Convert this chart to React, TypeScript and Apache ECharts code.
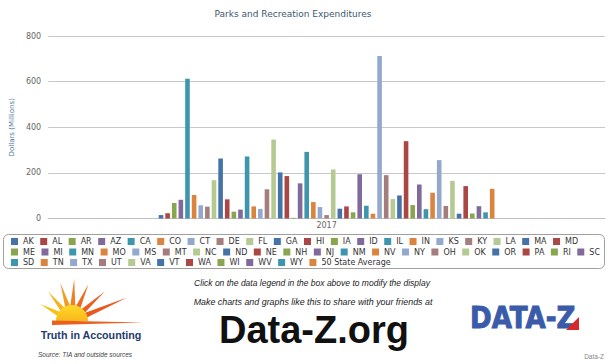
import React, { useEffect, useRef } from 'react';
import * as echarts from 'echarts';

const categories = ['2017'];
const states = [
  'AK', 'AL', 'AR', 'AZ', 'CA', 'CO', 'CT', 'DE', 'FL', 'GA',
  'HI', 'IA', 'ID', 'IL', 'IN', 'KS', 'KY', 'LA', 'MA', 'MD',
  'ME', 'MI', 'MN', 'MO', 'MS', 'MT', 'NC', 'ND', 'NE', 'NH',
  'NJ', 'NM', 'NV', 'NY', 'OH', 'OK', 'OR', 'PA', 'RI', 'SC',
  'SD', 'TN', 'TX', 'UT', 'VA', 'VT', 'WA', 'WI', 'WV', 'WY',
  '50 State Average',
];
const values = [
  15, 23, 68, 82, 613, 103, 58, 52, 168, 263,
  84, 30, 39, 272, 53, 42, 128, 346, 202, 186,
  3, 154, 292, 72, 50, 15, 215, 43, 53, 27,
  194, 56, 21, 712, 190, 85, 101, 339, 59, 149,
  41, 113, 256, 55, 165, 21, 142, 22, 54, 27,
  130,
];
const palette = ['#4572A7', '#AA4643', '#89A54E', '#80699B', '#3D96AE', '#DB843D', '#92A8CD', '#A47D7C', '#B5CA92'];
const yMin = 0;
const yMax = 800;
const yStep = 200;
const legendRows = [states.slice(0, 20), states.slice(20, 40), states.slice(40)];

const FONT = '"DejaVu Sans", Verdana, sans-serif';
const SANS = '"Liberation Sans", Arial, sans-serif';

function ray(cx: number, cy: number, deg: number, r1: number, r2: number, hw: number) {
  const a = (deg * Math.PI) / 180;
  const dx = Math.cos(a);
  const dy = -Math.sin(a);
  const px = -dy;
  const py = dx;
  return [
    [cx + dx * r1 + px * hw, cy + dy * r1 + py * hw],
    [cx + dx * r2, cy + dy * r2],
    [cx + dx * r1 - px * hw, cy + dy * r1 - py * hw],
  ];
}

export default function App() {
  const ref = useRef<HTMLDivElement>(null);

  useEffect(() => {
    const chart = echarts.init(ref.current as HTMLDivElement, null, { renderer: 'svg' });
    const sx = 72;
    const sy = 321;
    const rays: [number, number, string][] = [
      [152, 36, '#F6C21A'],
      [129, 38, '#F6B41A'],
      [107, 40, '#F39A1F'],
      [87, 42, '#EE7F22'],
      [66, 40, '#EC6B23'],
      [42, 44, '#E95F24'],
      [23, 60, '#E8581F'],
    ];
    const option: any = {
      animation: false,
      backgroundColor: '#ffffff',
      title: {
        text: 'Parks and Recreation Expenditures',
        left: 293,
        top: 9,
        padding: 0,
        textAlign: 'center',
        textStyle: { fontSize: 9, fontWeight: 'normal', color: '#3E576F', fontFamily: FONT },
      },
      grid: { left: 42, right: 7, top: 36, bottom: 145.5, containLabel: false },
      xAxis: {
        type: 'category',
        data: categories,
        axisLine: { lineStyle: { color: '#C0C0C0', width: 1 } },
        axisTick: { show: false },
        axisLabel: { fontSize: 8, color: '#666', margin: 3, fontFamily: FONT },
      },
      yAxis: {
        type: 'value',
        min: yMin,
        max: yMax,
        interval: yStep,
        axisLine: { show: false },
        axisTick: { show: false },
        splitLine: { lineStyle: { color: '#C8C8C8', width: 1 } },
        axisLabel: { fontSize: 8, color: '#666', margin: 7, fontFamily: FONT },
        name: 'Dollars (Millions)',
        nameLocation: 'middle',
        nameGap: 27,
        nameTextStyle: { fontSize: 7, color: '#4d759e', fontFamily: FONT },
      },
      legend: legendRows.map((data, r) => ({
        data,
        left: 11,
        top: 237.5 + r * 10.5,
        orient: 'horizontal',
        padding: 0,
        icon: 'rect',
        itemWidth: 7,
        itemHeight: 7,
        itemGap: 6.5,
        textStyle: { fontSize: 8, color: '#333', width: 12, fontFamily: FONT },
      })),
      series: states.map((name, i) => ({
        type: 'bar',
        name,
        data: [values[i]],
        barWidth: 4.6,
        barGap: '44%',
        itemStyle: { color: palette[i % palette.length] },
      })),
      graphic: [
        {
          type: 'rect',
          shape: { x: 3.5, y: 234.5, width: 601, height: 34, r: 5 },
          style: { fill: 'none', stroke: '#A0A0A0', lineWidth: 1 },
          silent: true,
        },
        {
          type: 'text',
          x: 312,
          y: 283,
          style: {
            text: 'Click on the data legend in the box above to modify the display',
            align: 'center', verticalAlign: 'middle',
            fontSize: 8.5, fontStyle: 'italic', fontFamily: SANS, fill: '#222',
          },
        },
        {
          type: 'text',
          x: 313,
          y: 302,
          style: {
            text: 'Make charts and graphs like this to share with your friends at',
            align: 'center', verticalAlign: 'middle',
            fontSize: 8.9, fontStyle: 'italic', fontFamily: SANS, fill: '#222',
          },
        },
        {
          type: 'text',
          x: 314,
          y: 330,
          style: {
            text: 'Data-Z.org',
            align: 'center', verticalAlign: 'middle',
            fontSize: 38, fontWeight: 'bold', fontFamily: SANS, fill: '#111',
          },
        },
        // Truth in Accounting logo
        ...rays.map(([deg, len, col]) => ({
          type: 'polygon',
          shape: { points: ray(sx, sy, deg, 14, len, 2.6) },
          style: { fill: col },
          silent: true,
        })),
        {
          type: 'sector',
          shape: { cx: sx, cy: sy, r: 16, r0: 0, startAngle: Math.PI, endAngle: Math.PI * 2, clockwise: true },
          style: {
            fill: new echarts.graphic.LinearGradient(0, 0, 0, 1, [
              { offset: 0, color: '#FFD928' },
              { offset: 1, color: '#F9B81B' },
            ]),
          },
          silent: true,
        },
        {
          type: 'polygon',
          shape: { points: [[52, 320.5], [143, 322.5], [52, 325]] },
          style: { fill: '#E9601F' },
          silent: true,
        },
        {
          type: 'text',
          x: 91,
          y: 335,
          style: {
            text: 'Truth in Accounting',
            align: 'center', verticalAlign: 'middle',
            fontSize: 10.7, fontWeight: 'bold', fontFamily: SANS, fill: '#1E3A6E',
          },
        },
        {
          type: 'text',
          x: 38,
          y: 354,
          style: {
            text: 'Source: TIA and outside sources',
            align: 'left', verticalAlign: 'middle',
            fontSize: 6.5, fontStyle: 'italic', fontFamily: SANS, fill: '#444',
          },
        },
        // DATA-Z logo
        {
          type: 'group',
          x: 470,
          y: 318,
          scaleX: 0.87,
          children: [
            {
              type: 'text',
              x: 0,
              y: 0,
              style: {
                text: 'DATA-Z',
                align: 'left', verticalAlign: 'middle',
                fontSize: 30, fontWeight: 'bold', fontFamily: FONT, fill: '#3A5BAA',
                stroke: '#3A5BAA', lineWidth: 1,
              },
            },
          ],
        },
        {
          type: 'polygon',
          shape: { points: [[566, 330], [579, 317], [579, 330]] },
          style: { fill: '#D9262B' },
          silent: true,
        },
        {
          type: 'text',
          x: 604,
          y: 356,
          style: {
            text: 'Data-Z',
            align: 'right', verticalAlign: 'middle',
            fontSize: 6.5, fontFamily: SANS, fill: '#888',
          },
        },
      ],
    };
    chart.setOption(option);
    return () => chart.dispose();
  }, []);

  return <div ref={ref} style={{ position: 'fixed', left: 0, top: 0, width: 612, height: 364 }} />;
}
